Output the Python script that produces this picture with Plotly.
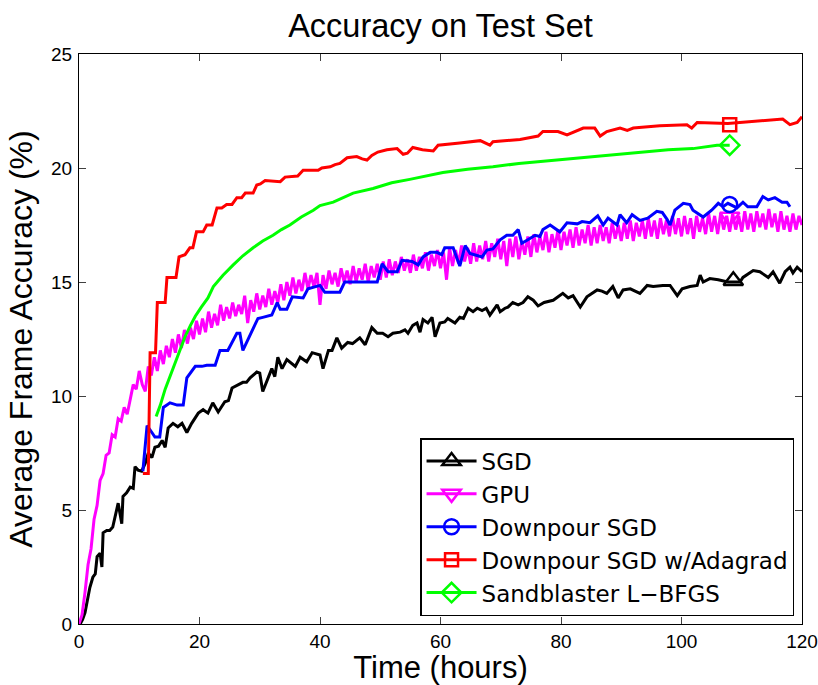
import plotly.graph_objects as go

# ---------------- data ----------------
sgd_t = [0.2, 0.6, 1.0, 1.4, 1.8, 2.3, 2.7, 3.0, 3.5, 3.8, 4.0, 4.6, 5.1, 5.6, 6.3, 6.5, 7.1, 7.3, 7.9, 8.5,
         9.0, 9.3, 9.8, 10.4, 11.0, 11.5, 12.1, 12.6, 13.2, 13.8, 14.3, 14.8, 15.6, 16.4, 17.1, 17.9, 18.7, 19.8, 20.6, 21.4,
         22.2, 23.1, 24.2, 24.8, 25.4, 26.4, 27.2, 27.8, 28.4, 29.5, 30.0, 30.5, 31.2, 32.0, 32.5, 33.0, 33.7, 34.5, 35.9, 36.7,
         37.8, 38.7, 40.0, 40.5, 41.4, 42.0, 42.8, 43.6, 44.6, 45.4, 46.6, 47.5, 48.6, 49.5, 50.4, 51.3, 52.1, 53.3, 54.1, 54.6,
         55.4, 56.1, 56.6, 57.1, 57.9, 58.6, 59.1, 59.9, 60.7, 61.2, 62.4, 63.2, 63.8, 64.6, 65.4, 66.1, 66.9, 67.6, 68.2, 69.4,
         69.9, 70.7, 71.2, 72.0, 72.9, 73.7, 74.5, 75.4, 76.2, 77.2, 78.7, 80.3, 81.2, 82.0, 83.2, 84.3, 86.0, 86.8, 87.6, 88.6,
         89.5, 90.3, 91.5, 93.1, 94.3, 95.3, 96.9, 98.1, 99.3, 100.1, 101.4, 102.6, 103.1, 103.6, 104.7, 106.1, 107.7, 109.7, 110.2, 111.9,
         113.0, 114.4, 115.2, 116.3, 117.2, 118.0, 118.5, 119.2, 120.0]
sgd_acc = [0.0, 0.2, 0.5, 1.1, 1.6, 2.05, 2.2, 2.95, 3.1, 2.5, 4.0, 4.1, 4.1, 4.25, 5.1, 5.3, 4.4, 5.6, 5.75, 6.0,
           5.95, 6.9, 6.75, 6.7, 7.05, 7.5, 7.3, 7.75, 7.8, 8.05, 7.75, 8.6, 8.8, 8.65, 8.8, 8.4, 8.8, 9.25, 9.4, 9.25,
           9.7, 9.3, 9.75, 9.8, 10.35, 10.5, 10.6, 10.6, 10.8, 11.05, 11.0, 10.2, 10.7, 11.2, 10.85, 11.7, 11.2, 11.6, 11.3, 11.7,
           11.5, 11.9, 11.8, 11.2, 12.0, 12.0, 12.55, 12.1, 12.35, 12.3, 12.55, 12.25, 13.0, 12.75, 12.75, 12.6, 12.75, 12.8, 12.9, 12.75,
           13.1, 13.2, 12.8, 13.35, 13.2, 13.45, 12.6, 13.2, 13.25, 13.4, 13.2, 13.45, 13.4, 13.85, 13.7, 13.85, 13.75, 13.85, 13.55, 14.0,
           13.7, 13.85, 13.9, 14.1, 14.0, 14.1, 14.35, 14.2, 13.95, 14.1, 14.2, 14.5, 14.3, 14.4, 13.9, 14.35, 14.65, 14.6, 14.5, 14.8,
           14.3, 14.65, 14.7, 14.5, 14.85, 14.8, 14.85, 14.85, 14.4, 14.7, 14.8, 14.85, 15.3, 15.0, 15.15, 15.1, 15.0, 15.0, 15.2, 15.5,
           15.45, 15.2, 15.45, 14.95, 15.45, 15.65, 15.4, 15.65, 15.45]

gpu_t = [i * 0.5 for i in range(241)]  # sampled every half hour
gpu_acc = [0.0, 0.4, 1.4, 2.6, 3.3, 4.6, 5.2, 6.3, 6.6, 7.4,
           7.5, 8.3, 8.2, 9.0, 8.9, 9.5, 9.2, 9.9, 10.5, 10.3,
           11.1, 10.5, 10.2, 11.3, 10.9, 11.7, 11.1, 12.0, 11.4, 12.2,
           11.7, 12.5, 11.9, 12.7, 12.1, 12.9, 12.3, 13.0, 12.5, 13.3,
           12.7, 13.4, 12.8, 13.7, 13.0, 13.6, 13.1, 14.0, 13.3, 13.9,
           13.4, 14.1, 13.5, 14.0, 13.6, 14.4, 13.2, 14.2, 13.7, 14.5,
           13.8, 14.4, 13.9, 14.7, 14.0, 14.6, 14.1, 14.9, 14.2, 15.0,
           14.4, 15.2, 14.5, 15.1, 14.6, 15.4, 14.7, 15.3, 14.8, 15.4,
           14.0, 15.3, 14.7, 15.5, 14.9, 15.4, 14.8, 15.6, 15.0, 15.5,
           14.9, 15.7, 15.0, 15.6, 15.1, 15.8, 15.0, 15.7, 15.2, 15.8,
           15.1, 15.9, 15.2, 16.0, 15.3, 15.9, 15.4, 16.1, 15.5, 16.0,
           15.4, 16.2, 15.5, 16.1, 15.6, 16.3, 15.5, 16.2, 15.7, 16.4,
           15.6, 16.3, 15.1, 16.5, 15.7, 16.4, 15.8, 16.6, 15.9, 16.5,
           15.8, 16.7, 15.9, 16.6, 16.0, 16.8, 15.9, 16.7, 16.1, 16.9,
           16.0, 16.8, 15.7, 16.9, 16.1, 17.0, 16.0, 16.8, 16.2, 17.0,
           16.1, 17.1, 16.3, 17.0, 16.4, 17.2, 16.3, 17.1, 16.5, 17.3,
           16.4, 17.2, 16.6, 17.3, 16.5, 17.4, 16.6, 17.3, 16.7, 17.5,
           16.6, 17.4, 16.7, 17.5, 16.8, 17.4, 16.7, 17.6, 16.9, 17.5,
           16.8, 17.6, 16.9, 17.7, 16.8, 17.6, 17.0, 17.7, 16.9, 17.8,
           17.0, 17.7, 16.9, 17.8, 17.1, 17.7, 17.0, 17.9, 17.1, 17.8,
           17.0, 17.9, 17.1, 17.8, 16.9, 17.9, 17.2, 17.8, 17.1, 18.0,
           17.2, 17.9, 17.1, 18.0, 17.3, 17.9, 17.2, 18.0, 17.3, 17.9,
           17.2, 18.1, 17.3, 18.0, 17.2, 18.1, 17.4, 18.0, 17.3, 18.2,
           17.4, 18.0, 17.2, 18.1, 17.3, 17.9, 17.2, 18.0, 17.3, 17.9,
           17.5]

down_t = [10.6, 11.3, 12.1, 12.6, 13.4, 14.0, 15.1, 16.3, 17.3, 17.9, 19.3, 20.4, 21.2, 22.6, 23.4, 24.7, 26.2, 26.7, 27.2, 28.0,
          29.7, 30.5, 32.0, 32.9, 33.4, 34.5, 35.4, 37.2, 38.0, 40.0, 40.8, 43.3, 44.1, 49.5, 50.3, 51.3, 52.8, 53.6, 55.3, 56.3,
          57.1, 58.3, 59.4, 60.2, 60.7, 62.1, 63.2, 64.1, 64.9, 66.9, 67.7, 68.7, 69.9, 71.0, 72.0, 72.9, 73.5, 74.5, 75.7, 76.5,
          77.0, 78.2, 79.8, 81.0, 82.7, 83.5, 84.8, 86.1, 87.0, 87.8, 89.3, 89.8, 90.9, 91.8, 93.1, 94.4, 95.9, 96.8, 97.6, 98.1,
          98.9, 100.3, 101.4, 101.9, 103.6, 105.0, 106.1, 106.9, 107.7, 109.2, 110.2, 111.0, 112.5, 113.5, 114.4, 115.5, 116.7, 117.5, 118.0]
down_acc = [6.7, 8.7, 8.4, 8.2, 8.2, 9.5, 9.7, 9.6, 9.6, 10.8, 11.3, 11.3, 11.35, 11.35, 12.0, 12.0, 12.75, 12.75, 12.0, 12.45,
            13.4, 13.45, 13.55, 14.1, 13.8, 13.8, 14.35, 14.3, 14.7, 14.85, 14.55, 14.55, 15.0, 15.0, 15.8, 15.45, 15.45, 15.95, 15.9, 15.75,
            16.1, 16.3, 16.3, 16.2, 16.5, 16.5, 15.7, 16.6, 16.25, 16.1, 16.4, 16.45, 16.85, 17.05, 17.05, 17.3, 16.7, 16.85, 17.05, 17.0,
            17.3, 17.5, 17.2, 17.6, 17.55, 17.65, 17.6, 17.9, 17.5, 17.8, 17.5, 17.95, 17.6, 17.95, 17.7, 17.8, 18.1, 18.05, 17.75, 17.5,
            18.15, 18.45, 18.4, 18.15, 17.85, 18.15, 18.45, 18.3, 18.45, 18.25, 18.5, 18.3, 18.3, 18.75, 18.6, 18.7, 18.5, 18.5, 18.3]

ada_t = [10.6, 11.5, 11.8, 12.7, 13.0, 14.3, 14.6, 16.1, 16.6, 17.6, 18.4, 18.9, 19.5, 20.6, 21.2, 22.1, 22.9, 23.7, 24.5, 25.4,
         26.2, 27.0, 27.6, 28.9, 29.5, 30.1, 30.9, 33.4, 34.2, 36.3, 37.2, 39.7, 40.3, 41.7, 42.5, 43.3, 44.5, 46.1, 47.0, 47.8,
         48.6, 49.6, 51.1, 52.8, 53.8, 54.5, 55.4, 57.0, 58.8, 59.6, 63.2, 66.6, 68.2, 68.7, 73.2, 76.2, 77.0, 79.5, 81.0, 83.7,
         85.6, 86.5, 87.6, 89.8, 91.0, 92.0, 96.4, 100.9, 101.7, 102.6, 107.7, 110.2, 115.2, 116.8, 118.0, 119.2, 120.0]
ada_acc = [6.6, 6.6, 11.9, 11.9, 14.1, 14.1, 15.2, 15.2, 16.1, 16.2, 16.5, 16.5, 17.2, 17.2, 17.5, 17.5, 18.25, 18.25, 18.4, 18.4,
           18.7, 18.7, 18.9, 18.9, 19.25, 19.3, 19.45, 19.4, 19.6, 19.65, 19.9, 19.9, 20.0, 20.05, 20.15, 20.2, 20.45, 20.5, 20.4, 20.35,
           20.55, 20.7, 20.8, 20.85, 20.6, 20.65, 20.9, 20.8, 20.75, 21.0, 21.1, 21.2, 21.0, 21.15, 21.25, 21.4, 21.6, 21.6, 21.45, 21.75,
           21.75, 21.4, 21.6, 21.75, 21.65, 21.75, 21.85, 21.9, 21.75, 22.0, 21.95, 22.0, 22.1, 22.15, 21.9, 22.0, 22.25]

sand_t = [12.8, 13.5, 14.3, 15.1, 15.9, 16.8, 17.6, 18.5, 19.3, 20.3, 21.4, 22.3, 23.9, 25.6, 27.2, 28.9, 30.5, 32.2, 33.6, 35.0,
          36.9, 38.9, 40.0, 42.2, 45.5, 48.8, 51.9, 54.9, 57.5, 60.4, 64.5, 68.7, 73.0, 77.0, 81.0, 85.3, 89.5, 93.6, 97.8, 101.9,
          105.9, 108.0]
sand_acc = [9.1, 9.6, 10.3, 10.85, 11.4, 12.0, 12.6, 13.1, 13.5, 13.9, 14.3, 14.8, 15.3, 15.75, 16.15, 16.5, 16.8, 17.05, 17.3, 17.5,
            17.85, 18.15, 18.35, 18.5, 18.9, 19.1, 19.35, 19.5, 19.65, 19.8, 19.95, 20.05, 20.2, 20.3, 20.4, 20.5, 20.6, 20.7, 20.8, 20.85,
            21.0, 21.0]

# marker positions (one marker per curve, as in the reference)
names = ["SGD", "GPU", "Downpour SGD", "Downpour SGD w/Adagrad", "Sandblaster L\u2212BFGS"]
marker_t = [108.6, 108.0, 108.0, 108.0, 108.0]
marker_acc = [15.05, 17.85, 18.4, 21.9, 21.0]

x_ticks = [0, 20, 40, 60, 80, 100, 120]
y_ticks = [0, 5, 10, 15, 20, 25]

# ---------------- styles ----------------
colors = ["#000000", "#ff00ff", "#0000ff", "#ff0000", "#00ff00"]
symbols = ["triangle-up-open", "triangle-down-open", "circle-open", "square-open", "diamond-open"]
msizes = [17, 17, 15, 13, 15]
FONT = "Liberation Sans, Arial, Helvetica, sans-serif"
LEGEND_FONT = "DejaVu Sans, Liberation Sans, sans-serif"

series = [(sgd_t, sgd_acc), (gpu_t, gpu_acc), (down_t, down_acc), (ada_t, ada_acc), (sand_t, sand_acc)]

fig = go.Figure()
for i, (tx, ty) in enumerate(series):
    fig.add_trace(go.Scatter(
        x=tx, y=ty, mode="lines", name=names[i], legendgroup=names[i], showlegend=False,
        line=dict(color=colors[i], width=3), hoverinfo="skip"))
for i in range(len(series)):
    fig.add_trace(go.Scatter(
        x=[marker_t[i]], y=[marker_acc[i]], mode="lines+markers", name=names[i], legendgroup=names[i],
        line=dict(color=colors[i], width=3),
        marker=dict(symbol=symbols[i], size=msizes[i], color=colors[i], line=dict(color=colors[i], width=2.5))))

axis_common = dict(
    showline=True, linecolor="#000000", linewidth=1.2, mirror="ticks",
    ticks="inside", ticklen=7, tickwidth=1, tickcolor="#404040",
    showgrid=False, zeroline=False,
    tickfont=dict(family=FONT, size=19, color="#000000"),
)

fig.update_layout(
    width=818, height=685,
    margin=dict(l=79, r=16, t=54, b=61),
    paper_bgcolor="white", plot_bgcolor="white",
    font=dict(family=FONT, color="#000000"),
    title=dict(text="Accuracy on Test Set", x=0.5385, xanchor="center", y=0.963, yanchor="middle",
               font=dict(family=FONT, size=32.5, color="#000000")),
    xaxis=dict(range=[0, 120], tickvals=x_ticks, ticktext=[str(v) for v in x_ticks],
               title=dict(text="Time (hours)", font=dict(family=FONT, size=31, color="#000000"), standoff=4),
               automargin=False, **axis_common),
    yaxis=dict(range=[0, 25], tickvals=y_ticks, ticktext=[str(v) for v in y_ticks],
               title=dict(text="Average Frame Accuracy (%)", font=dict(family=FONT, size=32, color="#000000"), standoff=8),
               automargin=False, ticklabelstandoff=2, **axis_common),
    legend=dict(x=0.989, y=0.014, xanchor="right", yanchor="bottom",
                bgcolor="white", bordercolor="#000000", borderwidth=1.5,
                font=dict(family=LEGEND_FONT, size=23, color="#000000"),
                tracegroupgap=0, itemsizing="trace", itemwidth=50),
    showlegend=True,
)

fig.write_html("out.html")
